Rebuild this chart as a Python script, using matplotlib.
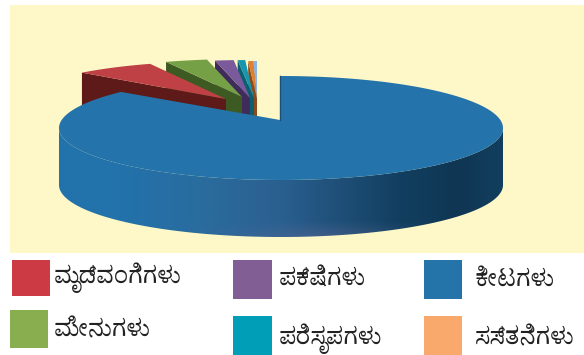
"""Animal species share, drawn as an extruded pie with a small legend."""

import matplotlib
matplotlib.use("Agg")
import matplotlib.pyplot as plt
import numpy as np
from matplotlib.colors import to_rgb
from matplotlib.patches import Polygon, Rectangle

plt.rcParams["font.family"] = ["Noto Serif Kannada", "Noto Sans Kannada", "Anek Kannada", "FreeSerif", "DejaVu Sans"]

# share of each slice in percent, starting at 12 o'clock going counter-clockwise
slice_names = ["other", "mammals", "reptiles", "birds", "fish", "molluscs", "insects"]
slice_values = [0.3, 0.4, 0.6, 1.5, 3.4, 6.6, 87.2]

legend_labels = ["ಮೃದ್ವಂಗಿಗಳು", "ಪಕ್ಷಿಗಳು", "ಕೀಟಗಳು", "ಮೀನುಗಳು", "ಪರಿಸೃಪಗಳು", "ಸಸ್ತನಿಗಳು"]

TOP = {"other": "#8ab4e0", "mammals": "#e07f2e", "reptiles": "#1797ad", "birds": "#7b5a9c",
       "fish": "#76a045", "molluscs": "#bf4145", "insects": "#2474ab"}
WALL = {"other": "#4a6a90", "mammals": "#8a4a1a", "reptiles": "#0c5f70", "birds": "#3f2c5a",
        "fish": "#3d5a22", "molluscs": "#5e1a18"}
# x, y of the apex for each small slice; they sit pulled apart from the main one
APEX = {"other": (257, 99), "mammals": (257, 99), "reptiles": (254, 98), "birds": (250, 98),
        "fish": (242, 97), "molluscs": (226, 99)}
LEGEND_BOXES = [((12, 260), 38, 36, "#cc3b44"), ((233, 260), 39, 39, "#815e94"),
                ((424, 260), 38, 39, "#2474a9"), ((10, 310), 38, 38, "#88ae50"),
                ((233, 316), 39, 39, "#009fb7"), ((424, 316), 38, 39, "#f9a96c")]
LEGEND_TEXT = [(54, 278), (279, 280), (475, 280), (54, 331), (279, 339), (475, 339)]

# colour of the main slice's side wall, left to right
WALL_STOPS_X = [60, 120, 200, 280, 340, 400, 460, 503]
WALL_STOPS = ["#2272ab", "#2272ab", "#2a6c9e", "#2a6090", "#1f4f78", "#123f60", "#0f3653", "#123f5e"]


def arc(cx, cy, rx, ry, a0, a1, n=80):
    t = np.radians(np.linspace(a0, a1, n))
    return np.column_stack([cx + rx * np.cos(t), cy - ry * np.sin(t)])


fig = plt.figure(figsize=(5.84, 3.55), dpi=100)
ax = fig.add_axes([0, 0, 1, 1])
ax.axis("off")

ax.add_patch(Rectangle((10, 5), 574, 248, color="#fef8c8", lw=0, zorder=0))

edges = 90 + np.cumsum([0] + slice_values) * 3.6

# small slices, back to front
z = 2
for i, name in enumerate(slice_names[:-1]):
    px, py = APEX[name]
    a0, a1 = edges[i], edges[i + 1]
    outer = arc(px, py, 200, 38, a0, a1)
    far = outer[-1]
    wall = [(px, py), tuple(far), (far[0], far[1] + 48), (px, py + 48)]
    ax.add_patch(Polygon(wall, color=WALL[name], lw=0, zorder=z))
    ax.add_patch(Polygon(np.vstack([[(px, py)], outer]), color=TOP[name], lw=0, zorder=z + 1))
    z += 2

# main slice: side wall with a shaded gradient, then the top face
cx, cy, rx, ry, depth = 281, 128, 222, 52, 57
front = arc(cx, cy, rx, ry, 180, 360, 160)
wall_patch = Polygon(np.vstack([front, (front + [0, depth])[::-1]]), color="none", lw=0, zorder=z)
ax.add_patch(wall_patch)

xs = np.linspace(59, 504, 256)
stops = np.array([to_rgb(c) for c in WALL_STOPS])
across = np.column_stack([np.interp(xs, WALL_STOPS_X, stops[:, k]) for k in range(3)])
# the lower rim picks up a lilac sheen, strongest just right of centre
ys = np.linspace(0, 1, 80)
glow = np.exp(-((xs - 330) / 90) ** 2)[None, :] * np.clip((ys - 0.85) / 0.15, 0, 1)[:, None] * 0.4
lilac = np.array(to_rgb("#6a6c98"))
img = across[None, :, :] * (1 - glow[:, :, None]) + lilac * glow[:, :, None]
im = ax.imshow(img, extent=(59, 504, 238, 128), aspect="auto", zorder=z)
im.set_clip_path(wall_patch)

top_face = np.vstack([[(280, 120)], arc(cx, cy, rx, ry, edges[-2], edges[-1], 300)])
ax.add_patch(Polygon(top_face, color=TOP["insects"], lw=0, zorder=z + 1))
ax.plot([280, 280], [76, 120], color="#1d4f78", lw=1, zorder=z + 2)

for ((x, y), w, h, color), label, (tx, ty) in zip(LEGEND_BOXES, legend_labels, LEGEND_TEXT):
    ax.add_patch(Rectangle((x, y), w, h, color=color, lw=0, zorder=z))
    ax.text(tx, ty, label, fontsize=17, color="#222222", va="center", ha="left", zorder=z)

ax.set_xlim(0, 584)
ax.set_ylim(355, 0)
fig.savefig("out.png", dpi=100)
